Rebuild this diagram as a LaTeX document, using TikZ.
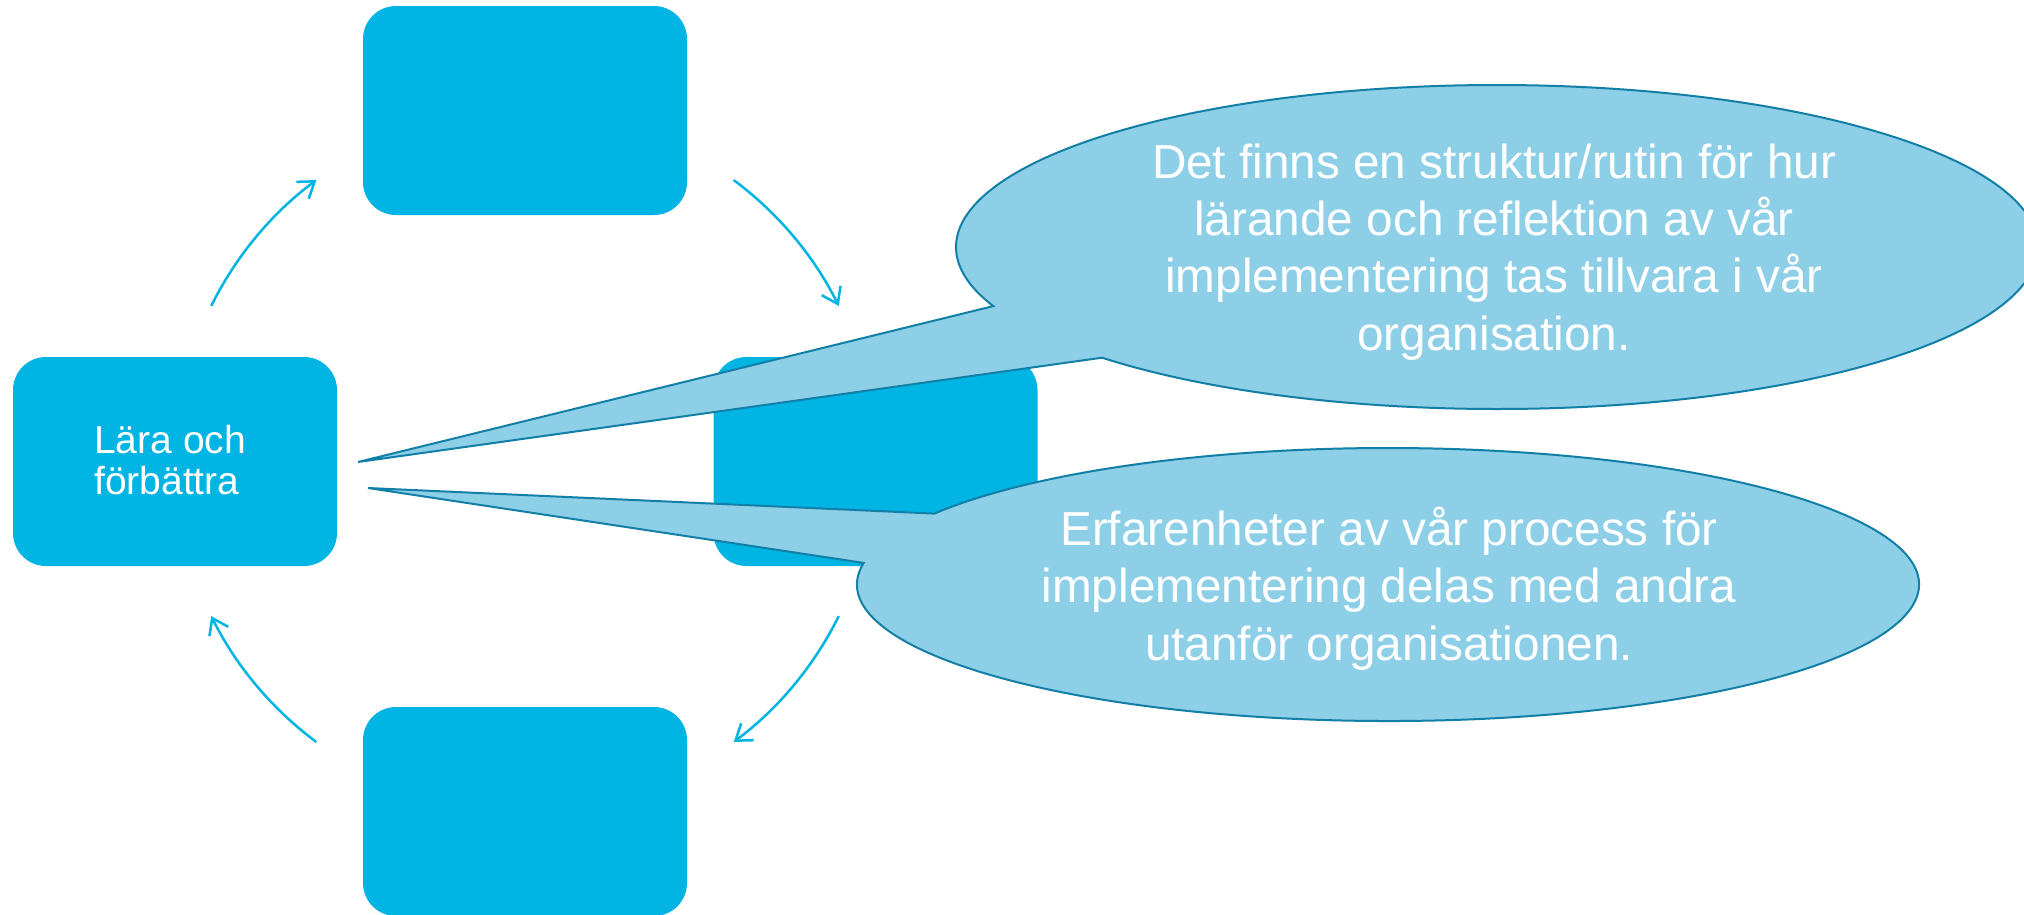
\documentclass[tikz,border=0pt]{standalone}
\usepackage{fontspec}
\setmainfont{Liberation Sans}
\usetikzlibrary{arrows.meta,calc}
\definecolor{boxblue}{HTML}{00B5E3}
\definecolor{callfill}{HTML}{8ECFE8}
\definecolor{calldraw}{HTML}{127FA6}
\begin{document}
\begin{tikzpicture}[x=1pt,y=1pt,
  stepbox/.style={fill=boxblue, rounded corners=33pt, minimum width=324pt, minimum height=209pt, inner sep=0pt, draw=none},
  cyc/.style={draw=boxblue, line width=2.5pt, -{Straight Barb[length=15pt,width=21pt,line width=2.5pt]}},
  callout/.style={fill=callfill, draw=calldraw, line width=2pt, line join=miter},
  calltext/.style={text=white, align=center, font=\fontsize{47.7}{57.3}\selectfont, inner sep=0pt}]
\clip (0,0) rectangle (2024,-914);
\fill[white] (0,0) rectangle (2024,-914);
% boxes
\node[stepbox] (top) at (525,-110.5) {};
\node[stepbox] (left) at (175,-461.5) {};
\node[stepbox] (right) at (875.5,-461.5) {};
\node[stepbox] (bottom) at (525,-811.5) {};
\node[font=\fontsize{39}{41}\selectfont, text=white, align=left, anchor=base west, inner sep=0pt] (lt) at (94,-494) {Lära och\\förbättra};
% cycle arrows
\coordinate (cc) at (525,-461);
\coordinate (a1) at ($(cc)+(153.7:350)$);
\coordinate (a2) at ($(cc)+(53.4:350)$);
\coordinate (a3) at ($(cc)+(-26.3:350)$);
\coordinate (a4) at ($(cc)+(-126.6:350)$);
\draw[cyc] (a1) arc[start angle=153.7, end angle=126.6, radius=350];
\draw[cyc] (a2) arc[start angle=53.4, end angle=26.3, radius=350];
\draw[cyc] (a3) arc[start angle=-26.3, end angle=-53.4, radius=350];
\draw[cyc] (a4) arc[start angle=-126.6, end angle=-153.7, radius=350];
% callout 1
\coordinate (c1) at (1497,-247);
\coordinate (tip1) at (358,-462);
\draw[callout] ($(c1)+(201.4:541 and 162)$) -- (tip1) -- ($(c1)+(223.1:541 and 162)$)
  arc[start angle=223.1, end angle=561.4, x radius=541, y radius=162] -- cycle;
\node[calltext, anchor=base] (t1) at (1494,-350) {Det finns en struktur/rutin för hur\\lärande och reflektion av vår\\implementering tas tillvara i vår\\organisation.};
% callout 2
\coordinate (c2) at (1388,-584.5);
\coordinate (tip2) at (368,-488);
\draw[callout] ($(c2)+(148.7:531 and 136.5)$) -- (tip2) -- ($(c2)+(170.9:531 and 136.5)$)
  arc[start angle=170.9, end angle=508.7, x radius=531, y radius=136.5] -- cycle;
\node[calltext, anchor=base] (t2) at (1389,-660) {Erfarenheter av vår process för\\implementering delas med andra\\utanför organisationen.};
\end{tikzpicture}
\end{document}
